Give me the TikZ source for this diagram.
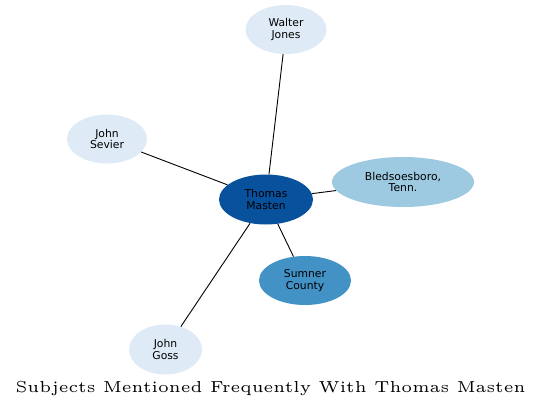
\documentclass[tikz,border=0pt]{standalone}
\usepackage{fontspec}
\setmainfont{Latin Modern Roman}
\newfontfamily\nodefont{DejaVu Sans}
\newfontfamily\titlefont{lmroman5-regular.otf}
\usetikzlibrary{shapes.geometric}

\definecolor{pale}{HTML}{DEEBF7}
\definecolor{light}{HTML}{9ECAE1}
\definecolor{mid}{HTML}{4292C6}
\definecolor{deep}{HTML}{08519C}

\begin{document}
\begin{tikzpicture}[x=1pt, y=-1pt,
    subject/.style={ellipse, inner sep=0pt, align=center, text=black, font=\nodefont\fontsize{10.8}{11.6}\selectfont},
    link/.style={draw=black, line width=0.9pt}]
    \useasboundingbox (0,0) rectangle (541,410);

    \node[subject, fill=deep, minimum width=94pt, minimum height=50pt] (masten) at (266,199.5) {Thomas\\Masten}; % centre
    \node[subject, fill=pale, minimum width=81pt, minimum height=49pt] (jones) at (286,29.5) {Walter\\Jones};
    \node[subject, fill=pale, minimum width=80pt, minimum height=49pt] (sevier) at (107,139) {John\\Sevier};
    \node[subject, fill=light, minimum width=142pt, minimum height=50pt] (bledsoe) at (403,182) {Bledsoesboro,\\Tenn.};
    \node[subject, fill=mid, minimum width=92pt, minimum height=49pt] (sumner) at (305,280.5) {Sumner\\County};
    \node[subject, fill=pale, minimum width=73pt, minimum height=50pt] (goss) at (165.5,349.5) {John\\Goss};

    % Links out of the centre
    \draw[link] (masten) -- (jones);
    \draw[link] (masten) -- (sevier);
    \draw[link] (masten) -- (bledsoe);
    \draw[link] (masten) -- (sumner);
    \draw[link] (masten) -- (goss);

    % Title
    \node[font=\titlefont\fontsize{15.9}{18}\selectfont] (title) at (270.5,389) {Subjects Mentioned Frequently With Thomas Masten};
\end{tikzpicture}
\end{document}
